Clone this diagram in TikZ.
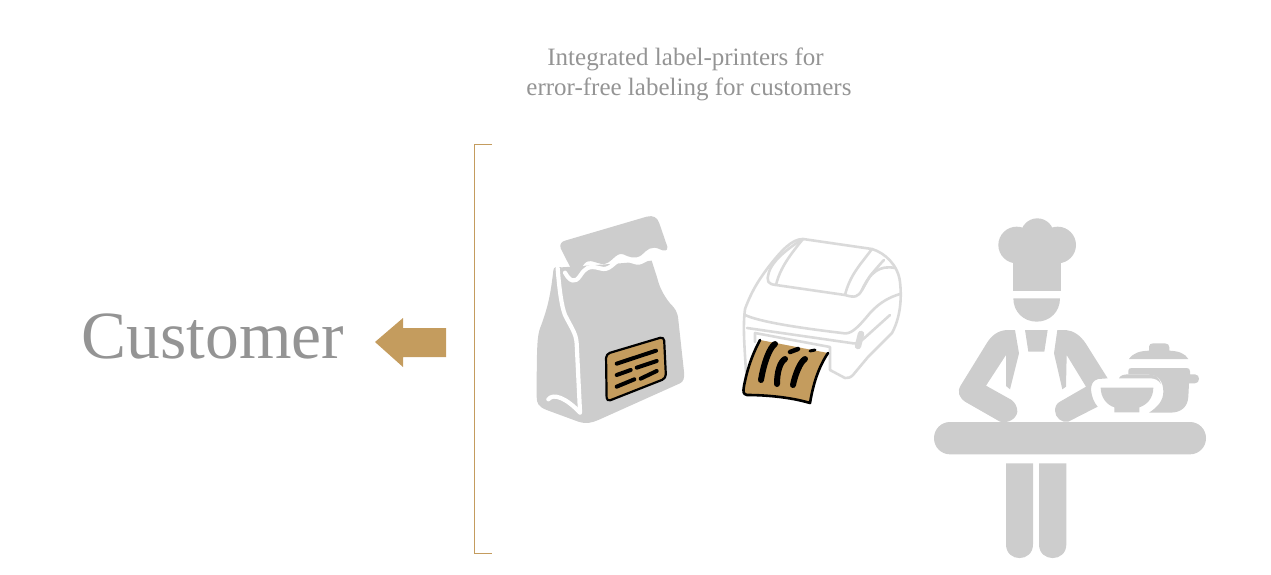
\documentclass[tikz,border=0pt]{standalone}
\usepackage{fontspec}
\setmainfont{Liberation Serif}
\definecolor{goldbrown}{HTML}{C49C5E}
\definecolor{softgrey}{HTML}{CDCDCD}
\definecolor{ringgrey}{HTML}{DADADA}
\definecolor{textgrey}{HTML}{949494}
\tikzset{
	caption/.style={text=textgrey, font=\fontsize{25}{30}\selectfont, anchor=base, inner sep=0pt},
	silhouette/.style={fill=softgrey, draw=none},
	gap/.style={draw=white, line width=4.2pt, line cap=round, line join=round},
	ring/.style={draw=ringgrey, line width=2.6pt, line cap=round, line join=round},
	bar/.style={draw=black, line cap=round, line join=round},
}
\begin{document}
\begin{tikzpicture}[x=1pt, y=-1pt]
	\useasboundingbox (0,0) rectangle (1271,575);
	\node[caption] (line1) at (685.5,65.7) {Integrated label-printers for};
	\node[caption] (line2) at (689,95.7) {error-free labeling for customers};
	\node[text=textgrey, font=\fontsize{67.5}{80}\selectfont, anchor=base, inner sep=0pt] (customer) at (213,358) {Customer};
	\fill[goldbrown] (375,342) -- (403,318) -- (403,328) -- (446,328) -- (446,357) -- (403,357) -- (403,367) -- cycle;
	\draw[goldbrown, line width=1pt] (492,144) -- (474.5,144) -- (474.5,553) -- (492,553);

	% bag
	\begin{scope}[shift={(520,200)}, scale=1/3]
		\path[silhouette] (125,202) .. controls (110,200) and (100,200) .. (100,212)
			.. controls (92,280) and (85,320) .. (60,385) .. controls (52,410) and (50,430) .. (50,590)
			.. controls (50,610) and (55,620) .. (80,630) -- (175,665) .. controls (200,673) and (215,668) .. (235,660)
			-- (480,550) .. controls (490,545) and (494,535) .. (492,515) -- (475,360)
			.. controls (473,335) and (465,325) .. (450,310) .. controls (430,285) and (418,260) .. (412,235)
			-- (395,182) -- (300,190) -- cycle;
		\draw[gap] (135,218) .. controls (150,245) and (165,250) .. (180,228) .. controls (195,205) and (205,195) .. (240,205)
			.. controls (270,215) and (280,185) .. (305,176) .. controls (330,175) and (345,195) .. (365,185) -- (390,172);
		\path[silhouette] (122,145) .. controls (118,132) and (125,125) .. (135,122) -- (380,50)
			.. controls (400,45) and (412,52) .. (418,70) -- (442,140) .. controls (445,155) and (430,153) .. (420,148)
			.. controls (395,135) and (380,150) .. (365,165) .. controls (345,180) and (325,170) .. (310,163)
			.. controls (285,155) and (275,195) .. (245,192) .. controls (215,185) and (205,175) .. (190,195)
			.. controls (175,220) and (160,212) .. (150,200) -- cycle;
		\draw[gap] (113,205) .. controls (118,270) and (125,320) .. (135,345) .. controls (155,385) and (168,400) .. (170,430)
			-- (180,635);
		\draw[gap] (85,598) .. controls (100,578) and (140,595) .. (180,638);
		\draw[black, fill=goldbrown, line width=2.2pt, line join=round, rounded corners=4pt]
			(258,462) -- (432,410) -- (438,535) -- (260,605) -- cycle;
		\foreach \xa/\ya/\xb/\yb in {290/491/408/452, 290/525/332/510, 350/503/410/483, 290/560/343/538, 362/536/410/513}
			\draw[bar, line width=4pt] (\xa,\ya) -- (\xb,\yb);
	\end{scope}

	% printer
	\draw[ring] (745,309) .. controls (752,290) and (760,278) .. (770,265) .. controls (782,250) and (792,239) .. (803,239)
		-- (872,249) .. controls (885,253) and (898,265) .. (900,282) .. controls (902,300) and (900,318) .. (892,333)
		-- (868,357) -- (853,375) .. controls (850,378) and (848,378) .. (845,378) -- (830,370);
	\draw[ring] (745,309) .. controls (743,325) and (744,340) .. (746,372);
	\draw[ring] (803,239) .. controls (785,250) and (772,262) .. (769,272) .. controls (766,282) and (768,284) .. (776,285)
		-- (845,295) .. controls (855,298) and (858,297) .. (862,290) -- (870,276) .. controls (880,264) and (882,262) .. (884,260);
	\draw[ring] (803,239) .. controls (790,255) and (780,268) .. (776,285);
	\draw[ring] (872,249) .. controls (860,265) and (850,275) .. (845,295);
	\draw[ring] (862,290) .. controls (870,272) and (880,265) .. (895,268);
	\draw[ring] (745,315) .. controls (760,322) and (800,328) .. (842,333) .. controls (850,335) and (856,330) .. (870,313)
		.. controls (880,302) and (890,297) .. (900,294);
	\draw[ring] (747,328) -- (851,343) .. controls (858,345) and (862,340) .. (870,333) -- (890,315);
	\draw[ring] (755,342) -- (755,333) -- (830,347) -- (830,370);
	\draw[ringgrey, line width=6.5pt, line cap=round] (861,334) -- (858,346);
	% paper strip
	\path[fill=goldbrown] (760,340) -- (828,353) .. controls (818,368) and (813,385) .. (810,403)
		.. controls (790,397) and (765,395) .. (747,395) .. controls (743,394) and (743,392) .. (744,386)
		.. controls (747,370) and (752,355) .. (760,340) -- cycle;
	\draw[black, line width=2.6pt, line cap=round, line join=round] (760,340) .. controls (752,355) and (747,370) .. (744,386)
		.. controls (743,392) and (743,394) .. (747,395) .. controls (765,395) and (790,397) .. (810,403)
		.. controls (813,385) and (818,368) .. (828,353);
	\draw[bar, line width=6pt] (775,344) .. controls (770,347) and (764,362) .. (761,380);
	\draw[bar, line width=6pt] (785,359) .. controls (780,362) and (777,372) .. (777,384);
	\draw[bar, line width=6pt] (805,359) .. controls (800,362) and (795,375) .. (793,385);
	\draw[bar, line width=4.5pt] (790,352) -- (798,349);
	\draw[bar, line width=3pt] (810,351) -- (815,350);

	% chef
	\begin{scope}[shift={(925,210)}, scale=1/3]
		\path[silhouette, rounded corners=16pt] (27,636) rectangle (843,733);
		\path[silhouette] (243,760) -- (324,760) -- (324,1003) .. controls (324,1058) and (243,1058) .. (243,1003) -- cycle;
		\path[silhouette] (342,760) -- (424,760) -- (424,1003) .. controls (424,1058) and (342,1058) .. (342,1003) -- cycle;
		\fill[softgrey] (275,105) circle[radius=55] (337,75) circle[radius=50] (398,105) circle[radius=55];
		\fill[softgrey] (265,100) rectangle (407,243);
		\path[silhouette] (265,265) -- (405,265) .. controls (405,305) and (375,335) .. (335,335) .. controls (295,335) and (265,305) .. (265,265) -- cycle;
		\path[silhouette] (300,360) -- (368,360) -- (358,425) -- (310,425) -- cycle;
		% arms
		\path[silhouette] (270,360) -- (245,360) .. controls (220,362) and (200,375) .. (185,400) -- (108,525)
			.. controls (95,545) and (102,562) .. (120,575) -- (225,635) .. controls (250,642) and (275,625) .. (277,605)
			.. controls (277,590) and (270,578) .. (260,570) -- (183,527) -- (243,435) -- (243,528) -- (255,538) -- (282,430) -- cycle;
		\path[silhouette] (397,360) -- (422,360) .. controls (445,362) and (465,375) .. (482,400) -- (548,505)
			-- (520,507) .. controls (503,510) and (498,525) .. (498,540) .. controls (500,560) and (507,578) .. (518,590)
			-- (430,635) .. controls (410,640) and (390,622) .. (390,602) .. controls (390,590) and (395,580) .. (405,575)
			-- (483,530) -- (425,435) -- (423,530) -- (412,538) -- (387,430) -- cycle;
		% pot
		\path[silhouette] (612,447) .. controls (625,428) and (645,423) .. (672,422) -- (672,410) .. controls (672,403) and (678,400) .. (685,400)
			-- (720,400) .. controls (728,400) and (733,405) .. (733,412) -- (733,422) .. controls (760,423) and (780,430) .. (790,447) -- cycle;
		\path[silhouette] (610,493) -- (610,482) .. controls (610,477) and (613,474) .. (620,474) -- (785,474) .. controls (792,474) and (795,478) .. (795,484)
			-- (795,493) -- (810,493) .. controls (826,493) and (826,520) .. (810,520) -- (792,520) -- (790,560)
			.. controls (788,590) and (770,608) .. (735,608) -- (672,608) .. controls (700,590) and (715,570) .. (715,545)
			.. controls (715,515) and (700,494) .. (670,494) -- cycle;
		\path[silhouette] (582,505) .. controls (585,497) and (595,493) .. (610,493) -- (670,494) .. controls (690,494) and (700,498) .. (708,522)
			.. controls (700,510) and (690,505) .. (675,505) -- cycle;
		\path[silhouette] (527,533) -- (685,533) .. controls (685,565) and (665,585) .. (643,592) -- (643,607) -- (568,607) -- (568,592)
			.. controls (545,585) and (527,562) .. (527,533) -- cycle;
	\end{scope}
\end{tikzpicture}
\end{document}
